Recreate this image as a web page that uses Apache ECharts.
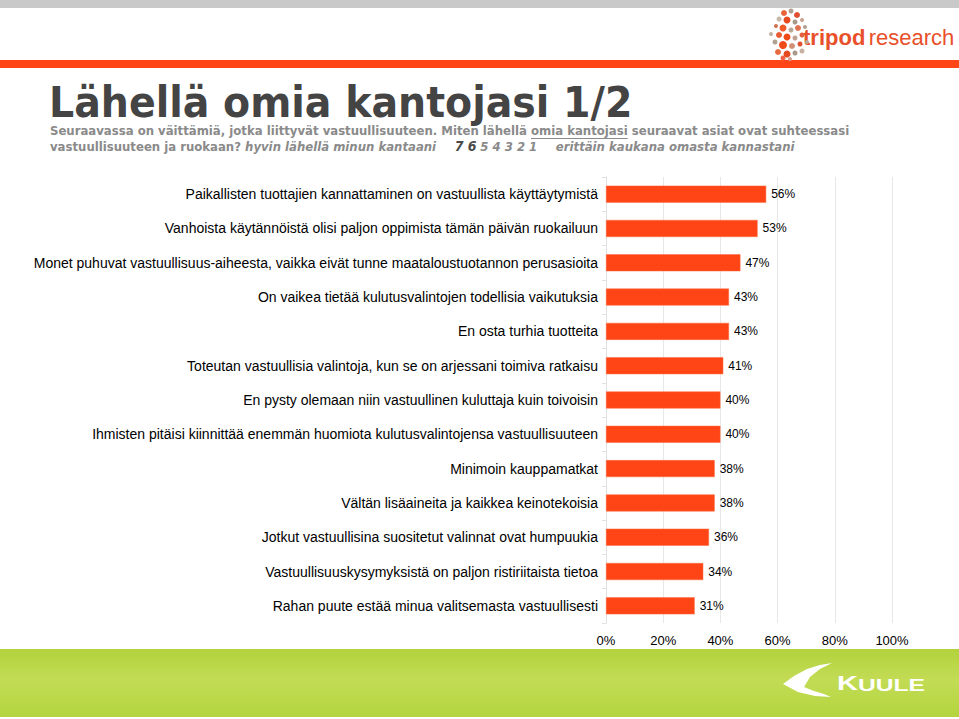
<!DOCTYPE html>
<html>
<head>
<meta charset="utf-8">
<script src="https://cdn.jsdelivr.net/npm/echarts@6/dist/echarts.min.js"></script>
<style>
html,body{margin:0;padding:0;background:#fff;}
#c{width:959px;height:719px;}
</style>
</head>
<body>
<div id="c"></div>
<script>
var categories = [
  'Paikallisten tuottajien kannattaminen on vastuullista käyttäytymistä',
  'Vanhoista käytännöistä olisi paljon oppimista tämän päivän ruokailuun',
  'Monet puhuvat vastuullisuus-aiheesta, vaikka eivät tunne maataloustuotannon perusasioita',
  'On vaikea tietää kulutusvalintojen todellisia vaikutuksia',
  'En osta turhia tuotteita',
  'Toteutan vastuullisia valintoja, kun se on arjessani toimiva ratkaisu',
  'En pysty olemaan niin vastuullinen kuluttaja kuin toivoisin',
  'Ihmisten pitäisi kiinnittää enemmän huomiota kulutusvalintojensa vastuullisuuteen',
  'Minimoin kauppamatkat',
  'Vältän lisäaineita ja kaikkea keinotekoisia',
  'Jotkut vastuullisina suositetut valinnat ovat humpuukia',
  'Vastuullisuuskysymyksistä on paljon ristiriitaista tietoa',
  'Rahan puute estää minua valitsemasta vastuullisesti'
];
var values = [56, 53, 47, 43, 43, 41, 40, 40, 38, 38, 36, 34, 31];
var xTicks = [0, 20, 40, 60, 80, 100];

var titleText = 'Lähellä omia kantojasi 1/2';
var subLine1a = 'Seuraavassa on väittämiä, jotka liittyvät vastuullisuuteen. Miten lähellä ';
var subLine1b = 'omia kantojasi';
var subLine1c = ' seuraavat asiat ovat suhteessasi';
var subLine2a = 'vastuullisuuteen ja ruokaan? ';
var subLine2b = 'hyvin lähellä minun kantaani';
var subLine2c = '7 6';
var subLine2d = '5 4 3 2 1';
var subLine2e = 'erittäin kaukana omasta kannastani';

var chart = echarts.init(document.getElementById('c'), null, {renderer: 'svg'});

var titleFont = '"DejaVu Sans Condensed", "DejaVu Sans", sans-serif';
var subFont = '"DejaVu Sans Condensed", "DejaVu Sans", sans-serif';
var subSize = 13;
var subColor = '#8a8a8a';

// measure text width for underline placement
var mctx = document.createElement('canvas').getContext('2d');
mctx.font = 'bold ' + subSize + 'px ' + subFont;
var ulStart = 50 + mctx.measureText(subLine1a).width;
var ulWidth = mctx.measureText(subLine1b).width;

var dots = [
  [784,13,3,'#e8643a'],[791,11,2.5,'#b0a090'],[797,15,3,'#e05030'],[779,19,2.5,'#c8b8a8'],
  [787,20,3.5,'#e84a20'],[795,22,2.5,'#a89888'],[802,20,2,'#c8a090'],[776,26,2,'#d07050'],
  [783,28,3.5,'#f05a28'],[791,30,2.5,'#b8a898'],[798,28,3,'#e07050'],[805,27,2,'#b0a090'],
  [779,35,3,'#e85a30'],[787,37,3.5,'#f04a18'],[795,38,2.5,'#c0a090'],[802,35,2.5,'#e06040'],
  [775,42,2.5,'#b0a090'],[783,45,4,'#f04a18'],[792,46,3,'#d09078'],[800,44,2.5,'#e05030'],
  [807,42,2,'#b8a898'],[778,52,3,'#e86a40'],[787,54,3.5,'#e84a20'],[795,53,2.5,'#a89888'],
  [802,51,2.5,'#c8b0a0'],[771,34,2,'#c0b0a0'],[790,59,2,'#d0a090'],[783,58,2.5,'#f06040']
];
var graphics = [
  {type:'rect', shape:{x:0, y:0, width:959, height:8}, style:{fill:'#c9c9c9'}, silent:true},
  {type:'rect', shape:{x:0, y:60, width:959, height:8}, style:{fill:'#ff4515'}, silent:true},
  {type:'text', x: 803, y: 26, style:{
    text: '{a|tripod} {b|research}',
    rich: {
      a: {fontSize: 22, fontWeight: 'bold', fill: '#e8502a', fontFamily: '"Liberation Sans", Arial, sans-serif'},
      b: {fontSize: 22, fill: '#e8502a', fontFamily: '"Liberation Sans", Arial, sans-serif'}
    }
  }}
];
dots.forEach(function(d){
  graphics.push({type:'circle', shape:{cx:d[0], cy:d[1], r:d[2]}, style:{fill:d[3]}, silent:true});
});
graphics.push(
  {type:'text', x: 49, y: 81, scaleX: 1.045, style:{
    text: titleText, fill: '#444444', fontSize: 42, fontWeight: 'bold',
    fontFamily: titleFont
  }},
  {type:'text', x: 50, y: 124, style:{
    text: subLine1a + subLine1b + subLine1c,
    fill: subColor, fontSize: subSize, fontWeight: 'bold', fontFamily: subFont
  }},
  {type:'line', shape:{x1: ulStart, y1: 138.5, x2: ulStart + ulWidth, y2: 138.5},
    style:{stroke: subColor, lineWidth: 1}, silent:true},
  {type:'text', x: 50, y: 139, style:{
    text: '{n|' + subLine2a + '}{i|' + subLine2b + '}{s|     }{k|' + subLine2c + '}{s| }{i|' + subLine2d + '}{s|     }{i|' + subLine2e + '}',
    rich: {
      n: {fill: subColor, fontSize: subSize, fontWeight: 'bold', fontFamily: subFont},
      i: {fill: subColor, fontSize: subSize, fontWeight: 'bold', fontStyle: 'italic', fontFamily: subFont},
      k: {fill: '#4a4a4a', fontSize: 14, fontWeight: 'bold', fontStyle: 'italic', fontFamily: subFont},
      s: {fontSize: subSize, fontFamily: subFont}
    }
  }},
  {type:'rect', shape:{x:0, y:649, width:959, height:68}, style:{
    fill: {type:'linear', x:0, y:0, x2:0, y2:1, colorStops:[
      {offset:0, color:'#b3d23c'},{offset:0.45, color:'#c2dc55'},{offset:1, color:'#b4d43e'}
    ]}
  }, silent:true},
  {type:'polygon', shape:{points:[[783,684],[794,676],[807,669],[820,665],[832,663],[820,669],[810,677],[804,687],[814,691],[824,694],[831,697],[815,696],[798,692]]},
    style:{fill:'#ffffff'}, silent:true},
  {type:'text', x: 837, y: 673, scaleX: 1.45, style:{
    text: '{k|K}{u|UULE}',
    rich: {
      k: {fill:'#ffffff', fontSize: 20, fontWeight:'bold', fontFamily:'"Liberation Sans", Arial, sans-serif'},
      u: {fill:'#ffffff', fontSize: 17, fontWeight:'bold', fontFamily:'"Liberation Sans", Arial, sans-serif', verticalAlign:'bottom'}
    }
  }}
);

var option = {
  backgroundColor: '#ffffff',
  animation: false,
  grid: {left: 606, right: 67, top: 177, bottom: 96, containLabel: false},
  xAxis: {
    type: 'value',
    min: 0, max: 100, interval: 20,
    axisLine: {show: false},
    axisTick: {show: false},
    axisLabel: {
      formatter: function(v){ return xTicks.indexOf(v) >= 0 ? v + '%' : ''; },
      color: '#000', fontSize: 13, margin: 11,
      fontFamily: '"Liberation Sans", Arial, sans-serif'
    },
    splitLine: {show: true, lineStyle: {color: '#e8e8e8', width: 1}}
  },
  yAxis: {
    type: 'category',
    inverse: true,
    data: categories,
    axisLine: {show: true, lineStyle: {color: '#e0e0e0'}},
    axisTick: {show: true, length: 4, lineStyle: {color: '#e0e0e0'}},
    axisLabel: {
      color: '#000', fontSize: 14, margin: 8,
      fontFamily: '"Liberation Sans", Arial, sans-serif'
    }
  },
  series: [{
    type: 'bar',
    data: values,
    barWidth: 17,
    itemStyle: {color: '#ff4515', borderColor: '#ff6a3e', borderWidth: 0.5},
    label: {
      show: true, position: 'right', distance: 5,
      formatter: '{c}%', color: '#000', fontSize: 12,
      fontFamily: '"Liberation Sans", Arial, sans-serif'
    }
  }],
  graphic: graphics
};
chart.setOption(option);
</script>
</body>
</html>
